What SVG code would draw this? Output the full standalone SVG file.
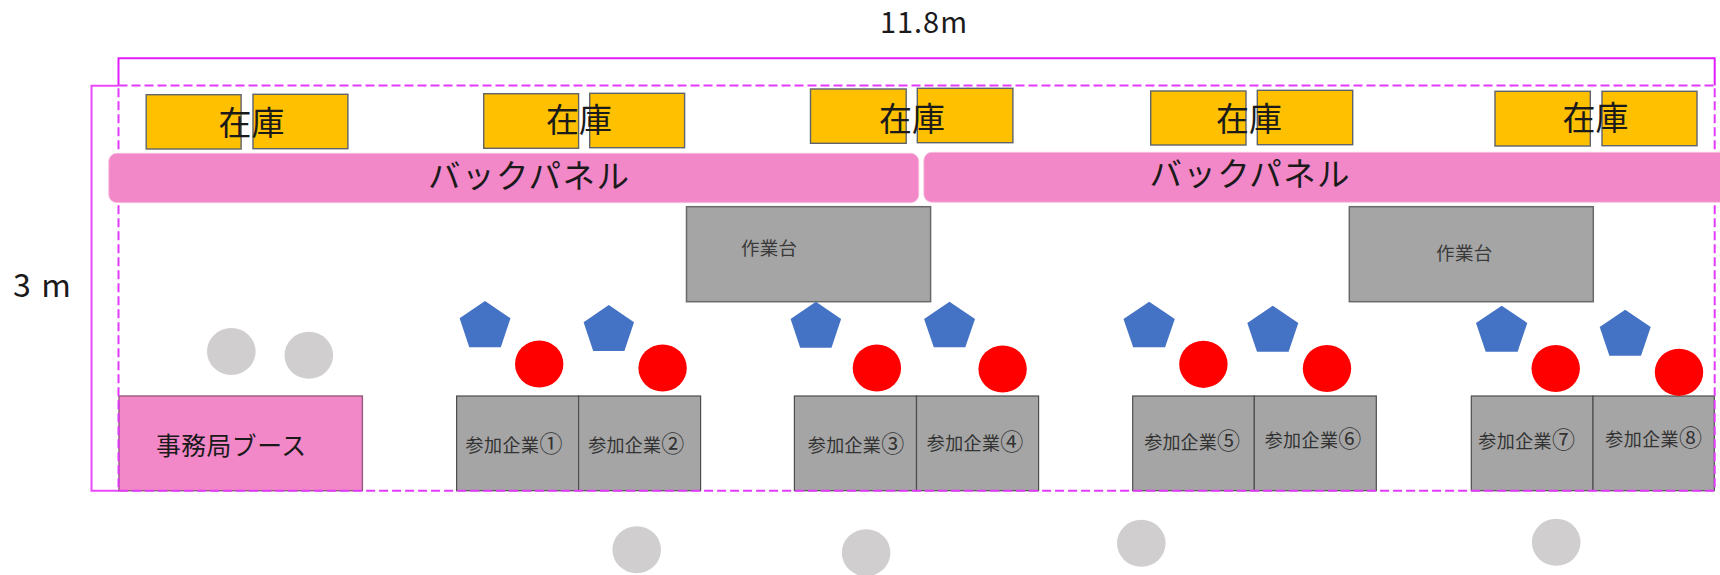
<svg xmlns="http://www.w3.org/2000/svg" width="1720" height="575" viewBox="0 0 1720 575">
<style>
text{font-family:"Noto Sans CJK JP","Noto Sans",sans-serif;fill:#1a1a1a}
.stock{fill:#FFC000;stroke:#5f636c;stroke-width:1.4}
.panel{fill:#F388C8;stroke:#f9c4e2;stroke-width:.8}
.bench{fill:#A5A5A5;stroke:#6a6a6a;stroke-width:1.5}
.booth{fill:#A5A5A5;stroke:#4d4d4d;stroke-width:1.2}
.pent{fill:#4472C4}
.red{fill:#FF0000}
.gray{fill:#D0CECE}
.t-stock{font-size:33px}
.t-panel{font-size:32.5px}
.t-bench{font-size:18.5px;fill:#3a3a3a}
.t-booth{font-size:18px;fill:#333}
.t-booth tspan{font-size:23px}
.frame{fill:none;stroke:#E31CFB;stroke-width:2}
.dash{fill:none;stroke:#E23BFB;stroke-width:2;stroke-dasharray:9 4}
</style>
<rect width="1720" height="575" fill="#fff"/>
<g id="frames">
<path class="frame" d="M118.5 85.5V58.3H1714.7V85.5"/>
<path class="frame" stroke-opacity=".8" d="M118.5 85.7H91.5V490.7H119"/>
</g>
<g id="booth-office"><rect x="119" y="396" width="243.4" height="94.7" fill="#F388C8" stroke="#94597f" stroke-width="1.4"/><text x="156" y="455" font-size="24.8" textLength="150">事務局ブース</text></g>
<g id="booth-1"><rect class="booth" x="456.6" y="396" width="122" height="94.7"/><text class="t-booth" x="465.4" y="451.5" textLength="97">参加企業<tspan>①</tspan></text></g>
<g id="booth-2"><rect class="booth" x="578.6" y="396" width="122" height="94.7"/><text class="t-booth" x="588.2" y="451.5" textLength="96">参加企業<tspan>②</tspan></text></g>
<g id="booth-3"><rect class="booth" x="794.4" y="396" width="122.1" height="94.7"/><text class="t-booth" x="807.8" y="451.5" textLength="96.4">参加企業<tspan>③</tspan></text></g>
<g id="booth-4"><rect class="booth" x="916.5" y="396" width="122.1" height="94.7"/><text class="t-booth" x="926.8" y="450.2" textLength="96.5">参加企業<tspan>④</tspan></text></g>
<g id="booth-5"><rect class="booth" x="1132.7" y="396" width="121.6" height="94.7"/><text class="t-booth" x="1144.2" y="448.8" textLength="95.8">参加企業<tspan>⑤</tspan></text></g>
<g id="booth-6"><rect class="booth" x="1254.3" y="396" width="122" height="94.7"/><text class="t-booth" x="1264.7" y="447.2" textLength="96.6">参加企業<tspan>⑥</tspan></text></g>
<g id="booth-7"><rect class="booth" x="1471.3" y="396" width="121.7" height="94.7"/><text class="t-booth" x="1478.3" y="448.2" textLength="96.7">参加企業<tspan>⑦</tspan></text></g>
<g id="booth-8"><rect class="booth" x="1593" y="396" width="121.3" height="94.7"/><text class="t-booth" x="1605.3" y="446.2" textLength="96.7">参加企業<tspan>⑧</tspan></text></g>
<g id="area"><rect class="dash" x="118.5" y="85.5" width="1596.2" height="405.2"/></g>
<g id="stock-1"><rect class="stock" x="146.2" y="94.7" width="94.9" height="54.3"/><rect class="stock" x="253" y="94.3" width="94.9" height="54.4"/><text class="t-stock" x="251.5" y="135" text-anchor="middle">在庫</text></g>
<g id="stock-2"><rect class="stock" x="483.7" y="93.7" width="94.9" height="54.6"/><rect class="stock" x="589.7" y="93.3" width="94.9" height="54.4"/><text class="t-stock" x="579" y="132" text-anchor="middle">在庫</text></g>
<g id="stock-3"><rect class="stock" x="810.5" y="89" width="95.7" height="54.3"/><rect class="stock" x="917.3" y="88.3" width="95.6" height="54.4"/><text class="t-stock" x="912" y="131" text-anchor="middle">在庫</text></g>
<g id="stock-4"><rect class="stock" x="1150.7" y="91" width="95.3" height="54"/><rect class="stock" x="1257.3" y="90.3" width="95.4" height="54.4"/><text class="t-stock" x="1249" y="131" text-anchor="middle">在庫</text></g>
<g id="stock-5"><rect class="stock" x="1495" y="91.3" width="95.3" height="54.7"/><rect class="stock" x="1602" y="91.3" width="95" height="54.4"/><text class="t-stock" x="1595.5" y="130" text-anchor="middle">在庫</text></g>
<g id="panel-1"><rect class="panel" x="108.7" y="153.3" width="810.1" height="49.4" rx="8"/><text class="t-panel" x="428" y="188" textLength="201">バックパネル</text></g>
<g id="panel-2"><rect class="panel" x="923.8" y="152.3" width="810" height="50" rx="8"/><text class="t-panel" x="1149.5" y="185.5" textLength="200">バックパネル</text></g>
<g id="bench-1"><rect class="bench" x="686.5" y="206.7" width="244.1" height="95"/><text class="t-bench" x="741" y="254.5" textLength="56">作業台</text></g>
<g id="bench-2"><rect class="bench" x="1349.3" y="206.7" width="244" height="95"/><text class="t-bench" x="1436" y="260" textLength="56.3">作業台</text></g>
<g id="staff">
<polygon class="pent" points="485,301 510.5,318.3 500.8,347.3 469.3,347.3 459.6,318.3"/>
<polygon class="pent" points="608.8,305 634,322.3 624.4,351 593.2,351 583.6,322.3"/>
<polygon class="pent" points="815.9,301.7 841.1,319 831.5,347.7 800.2,347.7 790.6,319"/>
<polygon class="pent" points="949.5,301.7 975,319 965.3,347.3 933.8,347.3 924.1,319"/>
<polygon class="pent" points="1149.2,301.7 1174.8,319 1165.1,347.3 1133.2,347.3 1123.5,319"/>
<polygon class="pent" points="1272.8,305.7 1298.3,323 1288.6,351.7 1257,351.7 1247.3,323"/>
<polygon class="pent" points="1501.7,305.7 1527.3,323 1517.6,351.7 1485.7,351.7 1476,323"/>
<polygon class="pent" points="1625.2,309.7 1650.7,327 1641,355.7 1609.4,355.7 1599.7,327"/>
<ellipse class="red" cx="539.2" cy="364" rx="24.2" ry="23.6"/>
<ellipse class="red" cx="662.6" cy="368" rx="24.2" ry="23.6"/>
<ellipse class="red" cx="876.9" cy="368" rx="24.2" ry="23.6"/>
<ellipse class="red" cx="1002.6" cy="369" rx="24.2" ry="23.6"/>
<ellipse class="red" cx="1203.4" cy="364.3" rx="24.2" ry="23.6"/>
<ellipse class="red" cx="1327" cy="368.5" rx="24.2" ry="23.6"/>
<ellipse class="red" cx="1555.7" cy="368.5" rx="24.2" ry="23.6"/>
<ellipse class="red" cx="1679" cy="372.3" rx="24.2" ry="23.6"/>
</g>
<g id="visitors">
<ellipse class="gray" cx="231.3" cy="351.5" rx="24.3" ry="23.5"/>
<ellipse class="gray" cx="308.8" cy="355.3" rx="24.3" ry="23.5"/>
<ellipse class="gray" cx="636.7" cy="549.7" rx="24.3" ry="23.5"/>
<ellipse class="gray" cx="866.1" cy="552.7" rx="24.3" ry="23.5"/>
<ellipse class="gray" cx="1141.3" cy="543.3" rx="24.3" ry="23.5"/>
<ellipse class="gray" cx="1556.2" cy="542.3" rx="24.3" ry="23.5"/>
</g>
<g id="labels">
<text x="880" y="33" font-size="29" textLength="87">11.8m</text>
<text x="13" y="297" font-size="32" textLength="58">3 m</text>
</g>
</svg>
